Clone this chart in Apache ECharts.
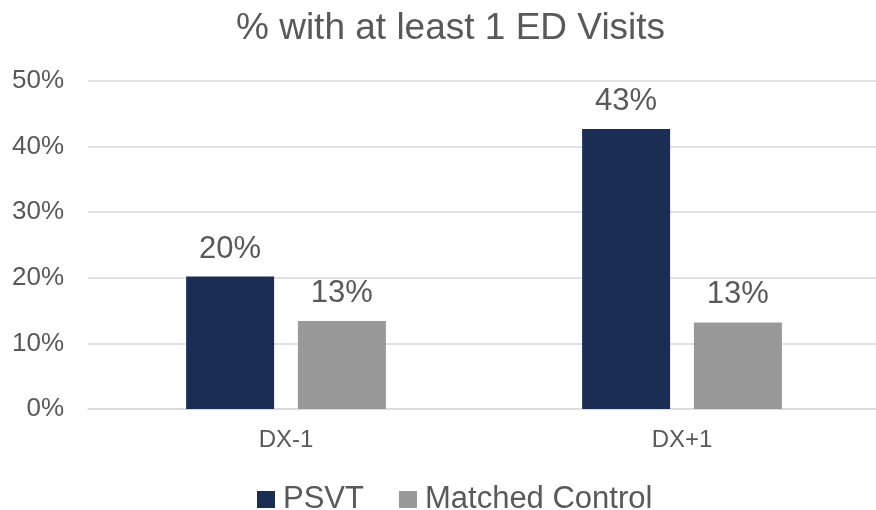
<!DOCTYPE html>
<html>
<head>
<meta charset="utf-8">
<script src="https://cdn.jsdelivr.net/npm/echarts@6/dist/echarts.min.js"></script>
<style>
html,body{margin:0;padding:0;background:#fff;}
#chart{width:876px;height:510px;}
</style>
</head>
<body>
<div id="chart"></div>
<script>
const categories = ['DX-1', 'DX+1'];
const psvt = [20.2, 42.7];
const matchedControl = [13.4, 13.2];
const yTicks = [0, 10, 20, 30, 40, 50];
const seriesNames = ['PSVT', 'Matched Control'];
const titleText = '% with at least 1 ED Visits';

const FONT = 'Arial, "Liberation Sans", sans-serif';
const TXT = '#595959';

const chart = echarts.init(document.getElementById('chart'), null, {renderer: 'canvas'});
const labelCfg = {
  show: true,
  position: 'top',
  distance: 12,
  color: TXT,
  fontSize: 31,
  fontFamily: FONT,
  formatter: p => Math.round(p.value) + '%'
};
chart.setOption({
  animation: false,
  backgroundColor: '#ffffff',
  title: {
    text: titleText,
    left: 236,
    top: 10,
    padding: 0,
    textStyle: {color: TXT, fontSize: 37, fontWeight: 'normal', fontFamily: FONT}
  },
  legend: {
    data: seriesNames,
    left: 257,
    top: 484,
    padding: 0,
    itemWidth: 18,
    itemHeight: 17,
    itemGap: 35,
    icon: 'rect',
    textStyle: {color: TXT, fontSize: 31, fontFamily: FONT, padding: [0, 0, 0, 3]}
  },
  grid: {left: 88, top: 81, width: 792, height: 328, containLabel: false, outerBoundsMode: 'none'},
  xAxis: {
    type: 'category',
    data: categories,
    axisLine: {show: true, lineStyle: {color: '#d9d9d9', width: 1.5}},
    axisTick: {show: false},
    axisLabel: {color: TXT, fontSize: 24, fontFamily: FONT, margin: 19}
  },
  yAxis: {
    type: 'value',
    min: yTicks[0],
    max: yTicks[yTicks.length - 1],
    interval: 10,
    axisLine: {show: false},
    axisTick: {show: false},
    splitLine: {lineStyle: {color: '#d9d9d9', width: 1.5}},
    axisLabel: {color: TXT, fontSize: 26, fontFamily: FONT, margin: 24, formatter: v => v + '%'}
  },
  series: [
    {name: seriesNames[0], type: 'bar', data: psvt, barWidth: 88, barGap: '27%',
     itemStyle: {color: '#1c2d54'}, label: labelCfg},
    {name: seriesNames[1], type: 'bar', data: matchedControl, barWidth: 88,
     itemStyle: {color: '#999999'}, label: labelCfg}
  ]
});
</script>
</body>
</html>
